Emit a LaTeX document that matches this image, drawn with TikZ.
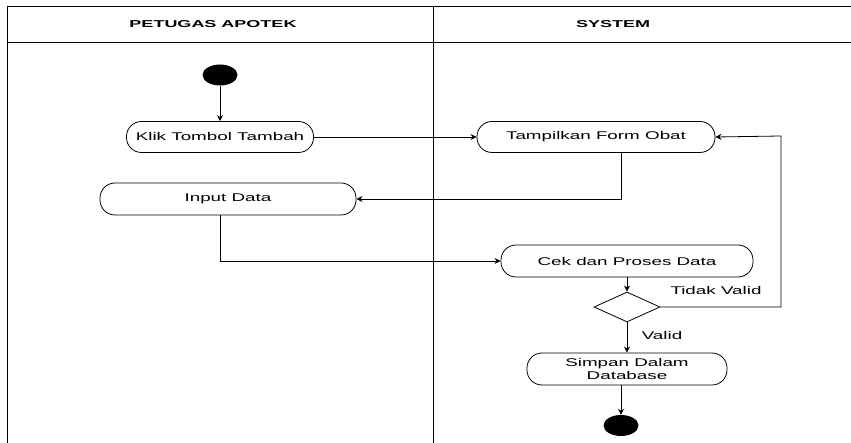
\documentclass[tikz,border=0pt]{standalone}
\usepackage{fontspec}
\setmainfont{Liberation Sans}
\newfontfamily\lbl[FakeStretch=1.68]{Liberation Sans}
\newfontfamily\hdr[FakeStretch=1.8]{Liberation Sans}
\usetikzlibrary{arrows.meta,shapes.geometric}
\begin{document}
\begin{tikzpicture}[x=1pt,y=-1pt,
  act/.style={draw, rounded corners=15pt, minimum height=31pt, inner sep=0pt,
    font=\lbl\fontsize{11.2}{13}\selectfont, align=center, line width=0.8pt},
  dec/.style={draw, diamond, minimum width=66pt, minimum height=30pt, inner sep=0pt, line width=0.8pt},
  dot/.style={ellipse, fill=black, minimum width=35pt, minimum height=21pt, inner sep=0pt},
  flow/.style={line width=0.8pt, -{Stealth[length=6pt,width=6pt]}},
  lab/.style={font=\lbl\fontsize{11.2}{13}\selectfont, inner sep=0pt},
  head/.style={font=\hdr\bfseries\fontsize{10}{12}\selectfont, inner sep=0pt},
  frame/.style={line width=1pt}]
\useasboundingbox (0,0) rectangle (851,443);
% swimlane frame
\draw[frame] (7,443) -- (7,7) -- (851,7);
\draw[frame] (7,43) -- (851,43);
\draw[frame] (433,7) -- (433,443);
\node[head] (h1) at (213,24) {PETUGAS APOTEK};
\node[head] (h2) at (613,24) {SYSTEM};
% nodes
\node[dot] (start) at (220,75) {};
\node[act, minimum width=187pt] (klik) at (220,137) {Klik Tombol Tambah};
\node[act, minimum width=238pt] (tamp) at (596,137) {Tampilkan Form Obat};
\node[act, minimum width=256pt, minimum height=32pt] (input) at (228,199) {Input Data};
\node[act, minimum width=252pt, minimum height=32pt] (cek) at (627,261) {Cek dan Proses Data};
\node[dec] (dia) at (627,307) {};
\node[act, minimum width=200pt, minimum height=32pt] (simpan) at (627,369) {Simpan Dalam\\Database};
\node[dot] (end) at (621,425.5) {};
% coordinates
\coordinate (c1) at (621,199);
\coordinate (c2) at (220,261);
\coordinate (c3) at (781,307);
\coordinate (c4) at (781,136);
% connectors
\draw[flow] (start) -- (klik);
\draw[flow] (klik.east) -- (tamp.west);
\draw[flow] (tamp.south -| c1) -- (c1) -- (input.east);
\draw[flow] (input.south -| c2) -- (c2) -- (cek.west);
\draw[flow] (cek) -- (dia.north);
\draw[flow] (dia.east) -- (c3) -- (c4) -- (tamp.east);
\draw[flow] (dia.south) -- (simpan.north);
\draw[flow] (simpan.south -| end) -- (end.north);
% labels
\node[lab] (tv) at (716,290) {Tidak Valid};
\node[lab] (v) at (662,335) {Valid};
\end{tikzpicture}
\end{document}
